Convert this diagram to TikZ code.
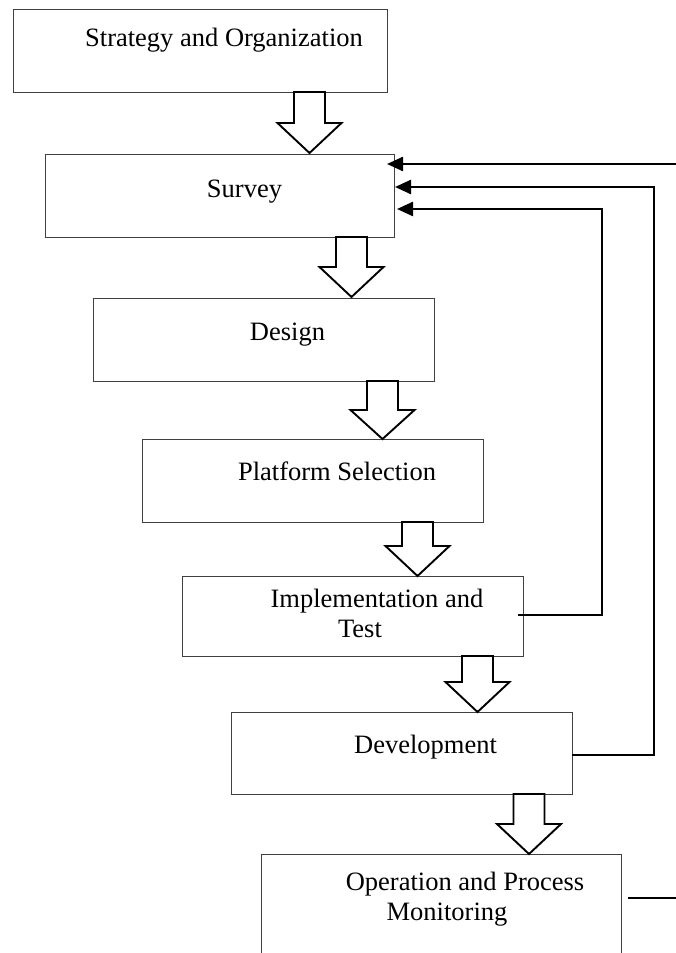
\documentclass[tikz,border=0pt]{standalone}
\usepackage{fontspec}
\setmainfont{Liberation Serif}
\usetikzlibrary{arrows.meta}
\tikzset{
  box/.style={draw=black!75, line width=0.9pt, fill=white, anchor=north west, inner sep=0pt},
  lbl/.style={anchor=base, inner sep=0pt, align=center, font=\fontsize{26.5}{30}\selectfont},
  blk/.style={draw=black, line width=1.9pt, fill=white, line join=miter},
  fb/.style={draw=black, line width=2.4pt, -{Triangle[length=16pt,width=14pt]}}
}
\newcommand{\BlkArrow}[4]{% cx, top, headtop, tip
  \path[blk] (#1-15.5,#2) -- (#1+15.5,#2) -- (#1+15.5,#3) -- (#1+32,#3) -- (#1,#4)
    -- (#1-32,#3) -- (#1-15.5,#3) -- cycle;}
\begin{document}
\begin{tikzpicture}[x=1pt,y=-1pt]
\useasboundingbox (0,0) rectangle (676,953);
\clip (0,0) rectangle (676,953);
% boxes
\node[box, minimum width=374pt, minimum height=83pt] (strat) at (13,9) {};
\node[box, minimum width=349pt, minimum height=83pt] (survey) at (45,154) {};
\node[box, minimum width=341pt, minimum height=83pt] (design) at (93,298) {};
\node[box, minimum width=341pt, minimum height=83pt] (platform) at (142,439) {};
\node[box, minimum width=341pt, minimum height=80pt] (impl) at (182,576) {};
\node[box, minimum width=341pt, minimum height=82pt] (dev) at (231,712) {};
\node[box, minimum width=360pt, minimum height=140pt] (oper) at (261,854) {};
% labels
\node[lbl] (tstrat) at (224,46) {Strategy and Organization};
\node[lbl] (tsurvey) at (244.5,197) {Survey};
\node[lbl] (tdesign) at (287.5,340) {Design};
\node[lbl] (tplatform) at (337,480) {Platform Selection};
\node[lbl] (timpl) at (377,637) {Implementation and\\\hspace*{-34pt}Test};
\node[lbl] (tdev) at (425.5,753) {Development};
\node[lbl] (toper) at (465,920) {Operation and Process\\\hspace*{-36pt}Monitoring};
% block arrows
\BlkArrow{309.5}{92}{123}{153}
\BlkArrow{351.5}{237}{267}{297}
\BlkArrow{382.5}{381}{410}{439}
\BlkArrow{417.5}{522}{546}{576}
\BlkArrow{477.5}{656}{682}{712}
\BlkArrow{529}{794}{824}{854}
% feedback connectors
\coordinate (o1) at (628,898);
\coordinate (o2) at (720,898);
\coordinate (o3) at (720,164);
\coordinate (s1) at (387,164);
\coordinate (d1) at (572,755);
\coordinate (d2) at (654,755);
\coordinate (d3) at (654,187);
\coordinate (s2) at (395,187);
\coordinate (i1) at (518,615);
\coordinate (i2) at (602,615);
\coordinate (i3) at (602,209);
\coordinate (s3) at (397,209);
\draw[fb] (o1) -- (o2) -- (o3) -- (s1);
\draw[fb] (d1) -- (d2) -- (d3) -- (s2);
\draw[fb] (i1) -- (i2) -- (i3) -- (s3);
\end{tikzpicture}
\end{document}
